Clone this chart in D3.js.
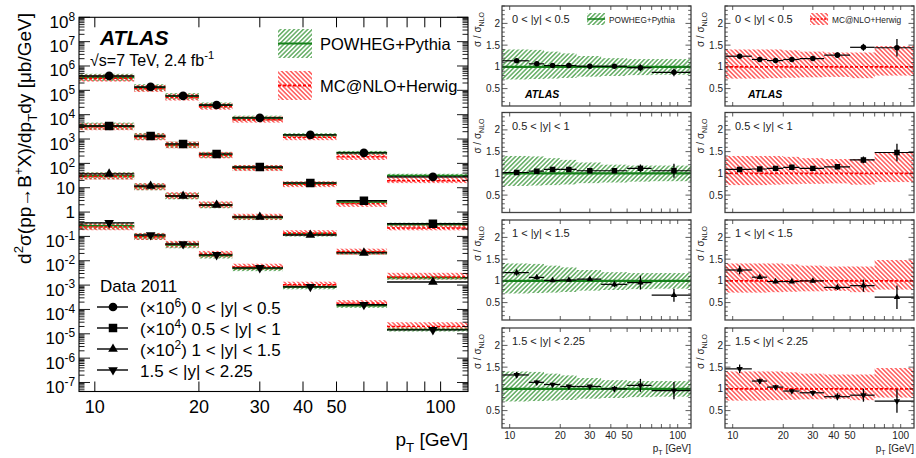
<!DOCTYPE html>
<html><head><meta charset="utf-8">
<script src="https://cdn.jsdelivr.net/npm/d3@7"></script>
<style>
body{margin:0;background:#fff;}
svg{display:block;font-family:"Liberation Sans",Arial,Helvetica,sans-serif;}
</style></head><body>
<svg id="c" width="916" height="458"></svg>
<script>
// ---------------- DATA ----------------
const binEdges   = [9,13,16,20,25,35,50,70,120];
const binCenters = [11,14.5,18,22.5,30,42,60,95];
const rapidityLabels = ["0 < |y| < 0.5","0.5 < |y| < 1","1 < |y| < 1.5","1.5 < |y| < 2.25"];
const scalePowers  = [6,4,2,0];
const scaleFactors = [1e6,1e4,1e2,1];

// measured cross sections d2sigma/dpTdy [ub/GeV] (unscaled)
const xsecY05  = [0.39,0.138,0.059,0.025,7.4e-3,1.48e-3,2.7e-4,2.78e-5];
const xsecY10  = [0.345,0.134,0.063,0.0245,7.1e-3,1.58e-3,2.9e-4,3.3e-5];
const xsecY15  = [0.37,0.118,0.046,0.0196,6.3e-3,1.15e-3,2.1e-4,1.35e-5];
const xsecY225 = [0.36,0.115,0.049,0.0175,5.1e-3,8.5e-4,1.55e-4,1.45e-5];

// data / POWHEG+Pythia
const powY05  = [1.14,1.07,1.03,1.03,1.015,1.015,0.98,0.875];
const powY10  = [1.02,1.05,1.09,1.09,1.06,1.06,1.115,1.06];
const powY15  = [1.19,1.08,1.01,1.02,1.04,0.92,0.96,0.67];
const powY225 = [1.32,1.15,1.10,1.055,1.055,1.0,1.08,0.96];
const powErrY05  = [0.04,0.03,0.03,0.03,0.03,0.04,0.08,0.09];
const powErrY10  = [0.04,0.03,0.03,0.03,0.03,0.04,0.09,0.16];
const powErrY15  = [0.07,0.05,0.03,0.03,0.03,0.06,0.16,0.15];
const powErrY225 = [0.07,0.05,0.04,0.03,0.03,0.07,0.15,0.2];

// data / MC@NLO+Herwig
const mcY05  = [1.245,1.17,1.145,1.17,1.19,1.27,1.45,1.44];
const mcY10  = [1.09,1.10,1.115,1.14,1.115,1.15,1.31,1.48];
const mcY15  = [1.25,1.085,0.985,0.985,1.0,0.85,0.89,0.625];
const mcY225 = [1.46,1.18,1.04,0.95,0.91,0.82,0.855,0.72];
const mcErrY05  = [0.05,0.04,0.03,0.03,0.03,0.06,0.08,0.2];
const mcErrY10  = [0.05,0.04,0.03,0.03,0.03,0.05,0.08,0.2];
const mcErrY15  = [0.1,0.05,0.04,0.03,0.04,0.06,0.14,0.27];
const mcErrY225 = [0.1,0.06,0.05,0.04,0.05,0.08,0.15,0.27];

// theory uncertainty bands (relative)
const powBandUp = [1.40,1.39,1.35,1.31,1.25,1.20,1.18,1.18];
const powBandLo = [0.71,0.72,0.73,0.745,0.775,0.79,0.81,0.82];
const mcBandUp  = [1.40,1.40,1.40,1.38,1.35,1.33,1.33,1.48];
const mcBandLo  = [0.73,0.73,0.74,0.75,0.76,0.77,0.74,0.80];

const xTickValues = [10,20,30,40,50,60,70,80,90,100];
const xTickLabels = ["10","20","30","40","50","100"];
const leftYExponents = [8,7,6,5,4,3,2,1,0,-1,-2,-3,-4,-5,-6,-7];
const ratioYTickLabels = ["0.5","1","1.5","2"];

const xsec = [xsecY05,xsecY10,xsecY15,xsecY225];
const powR = [powY05,powY10,powY15,powY225];
const powE = [powErrY05,powErrY10,powErrY15,powErrY225];
const mcR  = [mcY05,mcY10,mcY15,mcY225];
const mcE  = [mcErrY05,mcErrY10,mcErrY15,mcErrY225];

// ---------------- SETUP ----------------
const svg = d3.select("#c");
const defs = svg.append("defs");
function hatch(id,color,angle,sp,sw){
  const p = defs.append("pattern").attr("id",id).attr("patternUnits","userSpaceOnUse")
    .attr("width",sp).attr("height",sp).attr("patternTransform",`rotate(${angle})`);
  p.append("line").attr("x1",sp/2).attr("y1",-1).attr("x2",sp/2).attr("y2",sp+1)
    .attr("stroke",color).attr("stroke-width",sw);
}
hatch("hg","#2b8f2b",45,3.2,1.1);
hatch("hr","#ff2020",-45,3.2,1.1);
const GREEN="#15801a", RED="#ff0000";

const symTypes = [d3.symbolCircle,d3.symbolSquare,d3.symbolTriangle,d3.symbolTriangle];
const symRot = [0,0,0,180];
function marker(g,i,x,y,big){
  const sizes = big ? [60,72,40,40] : [24,30,18,18];
  g.append("path").attr("d",d3.symbol().type(symTypes[i]).size(sizes[i])())
    .attr("transform",`translate(${x},${y}) rotate(${symRot[i]})`).attr("fill","#000");
}
function rich(t, parts, fs){
  let shift=0;
  parts.forEach(([s,k])=>{
    const target = k==='sup' ? -fs*0.42 : (k==='sub' ? fs*0.3 : 0);
    t.append('tspan').attr('dy', target-shift).attr('font-size', k==='n'?fs:fs*0.7).text(s);
    shift=target;
  });
}

// ---------------- LEFT PANEL ----------------
const L = {x0:79,x1:468,y0:17.3,y1:391.5};
const xL = d3.scaleLog().domain([9,120]).range([L.x0,L.x1]);
const yL = d3.scaleLog().domain([Math.pow(10,-7.37),1e8]).range([L.y1,L.y0]);
const gL = svg.append("g");
defs.append("clipPath").attr("id","clipL").append("rect")
  .attr("x",L.x0).attr("y",L.y0).attr("width",L.x1-L.x0).attr("height",L.y1-L.y0);
const gLc = gL.append("g").attr("clip-path","url(#clipL)");

for(let i=0;i<4;i++){
  for(let j=0;j<8;j++){
    const d = xsec[i][j]*scaleFactors[i];
    const xa = xL(binEdges[j]), xb = xL(binEdges[j+1]);
    const cp = d/powR[i][j], cm = d/mcR[i][j];
    gLc.append("rect").attr("x",xa).attr("width",xb-xa)
      .attr("y",yL(cp*powBandUp[j])).attr("height",yL(cp*powBandLo[j])-yL(cp*powBandUp[j]))
      .attr("fill","url(#hg)");
    gLc.append("rect").attr("x",xa).attr("width",xb-xa)
      .attr("y",yL(cm*mcBandUp[j])).attr("height",yL(cm*mcBandLo[j])-yL(cm*mcBandUp[j]))
      .attr("fill","url(#hr)");
    gLc.append("line").attr("x1",xa).attr("x2",xb).attr("y1",yL(cp)).attr("y2",yL(cp))
      .attr("stroke",GREEN).attr("stroke-width",1.6);
    gLc.append("line").attr("x1",xa).attr("x2",xb).attr("y1",yL(cm)).attr("y2",yL(cm))
      .attr("stroke",RED).attr("stroke-width",1.4).attr("stroke-dasharray","3,2");
  }
}
for(let i=0;i<4;i++){
  for(let j=0;j<8;j++){
    const d = xsec[i][j]*scaleFactors[i];
    gLc.append("line").attr("x1",xL(binEdges[j])).attr("x2",xL(binEdges[j+1]))
      .attr("y1",yL(d)).attr("y2",yL(d)).attr("stroke","#000").attr("stroke-width",1.4);
    marker(gLc,i,xL(binCenters[j]),yL(d),true);
  }
}
gL.append("rect").attr("x",L.x0).attr("y",L.y0).attr("width",L.x1-L.x0).attr("height",L.y1-L.y0)
  .attr("fill","none").attr("stroke","#000").attr("stroke-width",1.1);
// y ticks
for(let e=-8;e<=8;e++){
  for(let k=1;k<=9;k++){
    const v=k*Math.pow(10,e);
    if(v<yL.domain()[0]||v>1e8*1.0001) continue;
    const y=yL(v), len = k===1?11:5.5;
    gL.append("line").attr("x1",L.x0).attr("x2",L.x0+len).attr("y1",y).attr("y2",y).attr("stroke","#000").attr("stroke-width",0.9);
    gL.append("line").attr("x1",L.x1).attr("x2",L.x1-len).attr("y1",y).attr("y2",y).attr("stroke","#000").attr("stroke-width",0.9);
  }
}
leftYExponents.forEach(e=>{
  const y=yL(Math.pow(10,e));
  const t=gL.append("text").attr("x",75).attr("text-anchor","end").attr("font-size",17);
  if(e===0){t.attr("y",y+6).text("1");}
  else if(e===1){t.attr("y",y+6).text("10");}
  else {t.attr("y",y+10.5); rich(t,[["10","n"],[String(e),"sup"]],17);}
});
// x ticks
xTickValues.forEach(v=>{
  const x=xL(v);
  gL.append("line").attr("x1",x).attr("x2",x).attr("y1",L.y1).attr("y2",L.y1-10).attr("stroke","#000");
  gL.append("line").attr("x1",x).attr("x2",x).attr("y1",L.y0).attr("y2",L.y0+10).attr("stroke","#000");
});
xTickLabels.forEach(s=>{
  gL.append("text").attr("x",xL(+s)).attr("y",413).attr("text-anchor","middle").attr("font-size",18).text(s);
});
// titles
{
  const t=gL.append("text").attr("x",xL(120)).attr("y",446).attr("text-anchor","end").attr("font-size",19);
  rich(t,[["p","n"],["T","sub"],[" [GeV]","n"]],19);
  const ty=gL.append("text").attr("transform","translate(31,13) rotate(-90)").attr("text-anchor","end").attr("font-size",19);
  rich(ty,[["d","n"],["2","sup"],["σ(pp→B","n"],["+","sup"],["X)/dp","n"],["T","sub"],["dy [μb/GeV]","n"]],19);
}
gL.append("text").attr("x",100).attr("y",45).attr("font-size",21).attr("font-weight","bold").attr("font-style","italic").text("ATLAS");
{
  const t=gL.append("text").attr("x",90).attr("y",66).attr("font-size",16);
  rich(t,[["√s=7 TeV, 2.4 fb","n"],["-1","sup"]],16);
}
// legend (theory)
[["hg","POWHEG+Pythia",29,GREEN,null],["hr","MC@NLO+Herwig",71,RED,"3,2"]].forEach(([p,lab,y,c,dash])=>{
  gL.append("rect").attr("x",278).attr("y",y).attr("width",34).attr("height",29).attr("fill",`url(#${p})`);
  const ln=gL.append("line").attr("x1",278).attr("x2",312).attr("y1",y+14.5).attr("y2",y+14.5).attr("stroke",c).attr("stroke-width",2);
  if(dash) ln.attr("stroke-dasharray",dash);
  gL.append("text").attr("x",320).attr("y",y+21).attr("font-size",16.5).text(lab);
});
// legend (data)
gL.append("text").attr("x",100).attr("y",292).attr("font-size",17).text("Data 2011");
for(let i=0;i<4;i++){
  const y=307+i*21;
  gL.append("line").attr("x1",97).attr("x2",128).attr("y1",y).attr("y2",y).attr("stroke","#000").attr("stroke-width",1.4);
  marker(gL,i,113,y,true);
  const t=gL.append("text").attr("x",140).attr("y",y+7).attr("font-size",17);
  if(scalePowers[i]>0) rich(t,[["(×10","n"],[String(scalePowers[i]),"sup"],[") "+rapidityLabels[i],"n"]],17);
  else t.text(rapidityLabels[i]);
}

// ---------------- RATIO PANELS ----------------
const panelTops=[6,112.5,220,328], PH=100;
function ratioColumn(x0,x1,R,E,bUp,bLo,pat,lineColor,dash,legLabel){
  const xR=d3.scaleLog().domain([9,120]).range([x0,x1]);
  const g=svg.append("g");
  panelTops.forEach((top,i)=>{
    const yR=d3.scaleLinear().domain([0.1,2.4]).range([top+PH,top]);
    const cid=`clip_${x0}_${i}`;
    defs.append("clipPath").attr("id",cid).append("rect").attr("x",x0).attr("y",top).attr("width",x1-x0).attr("height",PH);
    const gc=g.append("g").attr("clip-path",`url(#${cid})`);
    for(let j=0;j<8;j++){
      const xa=xR(binEdges[j]), xb=xR(binEdges[j+1]);
      gc.append("rect").attr("x",xa).attr("width",xb-xa).attr("y",yR(bUp[j])).attr("height",yR(bLo[j])-yR(bUp[j])).attr("fill",`url(#${pat})`);
    }
    const cl=gc.append("line").attr("x1",x0).attr("x2",x1).attr("y1",yR(1)).attr("y2",yR(1)).attr("stroke",lineColor).attr("stroke-width",dash?1.6:2.2);
    if(dash) cl.attr("stroke-dasharray",dash);
    for(let j=0;j<8;j++){
      const r=R[i][j], e=E[i][j], xc=xR(binCenters[j]);
      gc.append("line").attr("x1",xR(binEdges[j])).attr("x2",xR(binEdges[j+1])).attr("y1",yR(r)).attr("y2",yR(r)).attr("stroke","#000").attr("stroke-width",1.2);
      gc.append("line").attr("x1",xc).attr("x2",xc).attr("y1",yR(r-e)).attr("y2",yR(r+e)).attr("stroke","#000").attr("stroke-width",1.3);
      marker(gc,i,xc,yR(r),false);
    }
    g.append("rect").attr("x",x0).attr("y",top).attr("width",x1-x0).attr("height",PH).attr("fill","none").attr("stroke","#444").attr("stroke-width",1.3);
    // y ticks
    for(let k=2;k<=24;k++){
      const v=k/10, y=yR(v), major=(k%5===0), len=major?5.5:2.8;
      g.append("line").attr("x1",x0).attr("x2",x0+len).attr("y1",y).attr("y2",y).attr("stroke","#333").attr("stroke-width",0.8);
      g.append("line").attr("x1",x1).attr("x2",x1-len).attr("y1",y).attr("y2",y).attr("stroke","#333").attr("stroke-width",0.8);
    }
    ratioYTickLabels.forEach(s=>{
      g.append("text").attr("x",x0-2).attr("y",yR(+s)+3.6).attr("text-anchor","end").attr("font-size",10).attr("fill","#222").text(s);
    });
    xTickValues.forEach(v=>{
      const x=xR(v);
      g.append("line").attr("x1",x).attr("x2",x).attr("y1",top+PH).attr("y2",top+PH-4).attr("stroke","#333").attr("stroke-width",0.8);
      g.append("line").attr("x1",x).attr("x2",x).attr("y1",top).attr("y2",top+4).attr("stroke","#333").attr("stroke-width",0.8);
    });
    const yt=g.append("text").attr("transform",`translate(${x0-21},${top+6}) rotate(-90)`).attr("text-anchor","end").attr("font-size",10).attr("fill","#222");
    rich(yt,[["σ / σ","n"],["NLO","sub"]],10);
    g.append("text").attr("x",x0+10).attr("y",top+17).attr("font-size",11).attr("fill","#222").text(rapidityLabels[i]);
    if(i===0){
      g.append("text").attr("x",x0+23).attr("y",top+92).attr("font-size",10.5).attr("font-weight","bold").attr("font-style","italic").text("ATLAS");
      const lx=x0+(x1-x0)*0.45;
      g.append("rect").attr("x",lx).attr("y",top+7).attr("width",18).attr("height",12).attr("fill",`url(#${pat})`);
      const ll=g.append("line").attr("x1",lx).attr("x2",lx+18).attr("y1",top+13).attr("y2",top+13).attr("stroke",lineColor).attr("stroke-width",1.5);
      if(dash) ll.attr("stroke-dasharray","2,1.5");
      g.append("text").attr("x",lx+22).attr("y",top+16.5).attr("font-size",8.3).attr("fill","#222").text(legLabel);
    }
    if(i===3){
      xTickLabels.forEach(s=>{
        g.append("text").attr("x",xR(+s)).attr("y",top+PH+11).attr("text-anchor","middle").attr("font-size",10).attr("fill","#222").text(s);
      });
      const t=g.append("text").attr("x",x1).attr("y",452).attr("text-anchor","end").attr("font-size",10).attr("fill","#222");
      rich(t,[["p","n"],["T","sub"],[" [GeV]","n"]],10);
    }
  });
}
ratioColumn(502,691,powR,powE,powBandUp,powBandLo,"hg",GREEN,null,"POWHEG+Pythia");
ratioColumn(725,914,mcR,mcE,mcBandUp,mcBandLo,"hr",RED,"3,2","MC@NLO+Herwig");
</script>
</body></html>
